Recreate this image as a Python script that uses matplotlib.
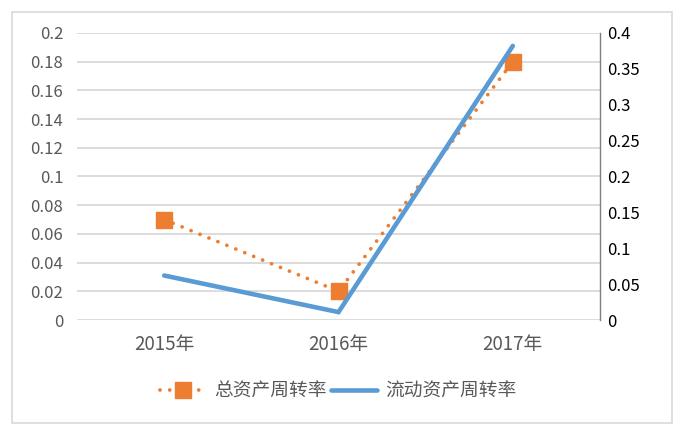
import matplotlib.pyplot as plt
from matplotlib.patches import Rectangle

plt.rcParams['font.family'] = ['Noto Sans CJK SC', 'DejaVu Sans']

years = ['2015年', '2016年', '2017年']
total_turnover = [0.07, 0.02, 0.18]      # 总资产周转率, left axis
current_turnover = [0.062, 0.011, 0.382]  # 流动资产周转率, right axis

orange = '#ed7d31'
blue = '#5b9bd5'
grey_txt = '#595959'
grid_c = '#d9d9d9'

fig = plt.figure(figsize=(6.89, 4.38), dpi=100)
ax = fig.add_axes([0.1118, 0.2694, 0.759, 0.6553])
ax2 = ax.twinx()

x = list(range(len(years)))
l1, = ax.plot(x, total_turnover, color=orange, linestyle=(0, (0.01, 2.57)), linewidth=2.7,
              dash_capstyle='round', marker='s', markersize=12, label='总资产周转率')
l2, = ax2.plot(x, current_turnover, color=blue, linewidth=3.3, solid_capstyle='round',
               solid_joinstyle='miter', label='流动资产周转率')

ax.set_xlim(-0.5, 2.5)
ax.set_ylim(0, 0.2)
ax2.set_ylim(0, 0.4)
ax.set_yticks([i * 0.02 for i in range(11)])
ax.set_yticklabels(['0', '0.02', '0.04', '0.06', '0.08', '0.1', '0.12', '0.14',
                    '0.16', '0.18', '0.2'])
ax2.set_yticks([i * 0.05 for i in range(9)])
ax2.set_yticklabels(['0', '0.05', '0.1', '0.15', '0.2', '0.25', '0.3', '0.35', '0.4'])
ax.set_xticks(x)
ax.set_xticklabels(years)

ax.grid(axis='y', color=grid_c, linewidth=1.3)
ax.set_axisbelow(True)
for a in (ax, ax2):
    for s in a.spines.values():
        s.set_visible(False)
ax2.spines['right'].set_visible(True)
ax2.spines['right'].set_color('#7f7f7f')
ax2.spines['right'].set_linewidth(1.0)

ax.tick_params(axis='y', length=0, labelsize=12, labelcolor=grey_txt, pad=10)
ax.tick_params(axis='x', length=0, labelsize=13.5, labelcolor=grey_txt, pad=10)
ax2.tick_params(axis='y', length=0, labelsize=12, labelcolor='#000000', pad=5)

fig.legend(handles=[l1, l2], loc='center', bbox_to_anchor=(0.491, 0.108), ncol=2,
           frameon=False, fontsize=13.5, labelcolor=grey_txt, handlelength=2.45,
           handletextpad=0.45, columnspacing=0.25)

fig.patches.append(Rectangle((12 / 689, 1 - 423 / 438), 660 / 689, 411 / 438,
                             transform=fig.transFigure, fill=False,
                             edgecolor=grid_c, linewidth=1.2))

fig.savefig('out.png', dpi=100)
